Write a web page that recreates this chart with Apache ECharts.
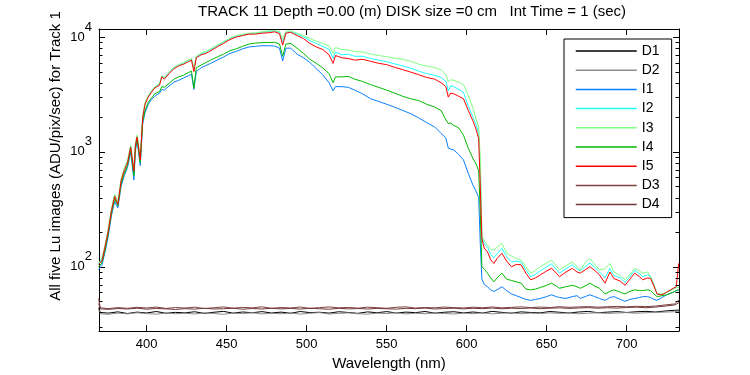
<!DOCTYPE html>
<html lang="en">
<head>
<meta charset="UTF-8">
<title>TRACK 11 Lu images</title>
<script src="https://cdn.jsdelivr.net/npm/echarts@6/dist/echarts.min.js"></script>
<style>
    html, body { margin: 0; padding: 0; background: #fff; }
    #main { width: 750px; height: 375px; }
</style>
</head>
<body>
<div id="main"></div>
<script>
var myChart = echarts.init(document.getElementById('main'))

var xTicks = [400, 450, 500, 550, 600, 650, 700]
var minorTicks = [30, 40, 50, 60, 70, 80, 90, 200, 300, 400, 500, 600, 700, 800, 900,
    2000, 3000, 4000, 5000, 6000, 7000, 8000, 9000]

// wavelength grid (nm) of the five light images
var wl = [
    370, 372, 374, 376, 378, 380, 382, 384, 386, 388,
    390, 392, 393, 394, 396, 397.5, 399, 401, 403, 405,
    408, 409.5, 411, 414, 417, 420, 423, 426, 428, 429.5,
    431, 434, 437, 440, 444, 448, 452, 456, 460, 464,
    468, 472, 476, 480, 483, 485, 487, 490, 494, 498,
    502, 506, 510, 514, 516.5, 518, 522, 526, 530, 535,
    540, 545, 550, 555, 560, 565, 570, 575, 580, 584,
    587, 588.5, 590, 592, 595, 598, 601, 604, 606, 607.5,
    608.5, 609.5, 611, 613, 615, 617, 619, 622, 625, 628,
    631, 634, 637, 640, 643, 646, 650, 653, 656, 658,
    662, 666, 669, 671, 674, 677, 680, 683, 686.5, 689.5,
    692, 696, 699, 702, 705, 708, 710, 713, 715, 717,
    719, 722, 725, 729, 731, 732.5
]

var i1 = [
    95, 103, 135, 185, 280, 370, 325, 500, 620, 730,
    1000, 570, 1030, 1250, 760, 1750, 2200, 2600, 2850, 3050,
    3250, 3500, 3450, 3750, 4050, 4200, 4400, 4600, 4750, 3500,
    5000, 5400, 5650, 5900, 6300, 6700, 7200, 7500, 7900, 8200,
    8300, 8400, 8400, 8350, 8000, 6200, 8000, 8000, 7100, 6600,
    6000, 5300, 4700, 4000, 3400, 3700, 3700, 3650, 3450, 3200,
    2900, 2750, 2600, 2450, 2300, 2150, 1980, 1800, 1650, 1450,
    1320, 1080, 1060, 1040, 950, 850, 650, 510, 450, 400,
    160, 78, 70, 67, 63, 61, 63, 67, 62, 58,
    56, 54, 52, 51, 52, 53, 55, 57, 55, 54,
    53, 55, 56, 53, 55, 57, 55, 53, 51, 54,
    55, 52, 50, 52, 53, 54, 55, 55, 54, 52,
    51, 54, 57, 60, 62, 63
]

var i2 = [
    106, 115, 152, 210, 315, 420, 360, 570, 700, 820,
    1120, 700, 1170, 1380, 880, 2020, 2650, 3050, 3350, 3650,
    3900, 4550, 4400, 4900, 5400, 5700, 5900, 6200, 6400, 5200,
    6700, 7100, 7400, 7800, 8400, 9000, 9700, 10100, 10400, 10700,
    10800, 11000, 11200, 11300, 11000, 9000, 11000, 11100, 10600, 10100,
    9300, 8800, 8300, 7800, 6500, 7400, 7000, 7100, 6800, 6800,
    6500, 6300, 6100, 5850, 5600, 5350, 5050, 4800, 4650, 4450,
    4100, 3400, 3750, 3700, 3500, 3300, 2500, 2000, 1700, 1450,
    700, 180, 158, 148, 128, 120, 130, 145, 122, 110,
    112, 110, 94, 82, 86, 92, 100, 106, 95, 88,
    96, 104, 96, 92, 100, 108, 99, 90, 80, 97,
    84, 80, 73, 82, 93, 87, 82, 85, 82, 70,
    58, 57, 60, 64, 66, 66
]

var i3 = [
    108, 118, 155, 215, 320, 430, 370, 580, 720, 840,
    1150, 720, 1200, 1400, 900, 2050, 2700, 3100, 3400, 3700,
    3950, 4600, 4450, 4950, 5450, 5750, 6000, 6300, 6500, 5300,
    6800, 7300, 7500, 7900, 8500, 9100, 9800, 10300, 10600, 10800,
    10900, 11100, 11300, 11400, 11200, 9600, 11200, 11300, 10800, 10300,
    9700, 9200, 8800, 8400, 7200, 8100, 7800, 7700, 7500, 7400,
    7100, 6900, 6750, 6550, 6400, 6150, 5800, 5600, 5400, 5200,
    4700, 4100, 4250, 4200, 4050, 3850, 3100, 2400, 1900, 1650,
    900, 185, 168, 155, 142, 140, 148, 160, 131, 124,
    118, 114, 100, 88, 93, 100, 108, 114, 102, 94,
    102, 110, 100, 94, 108, 118, 105, 94, 96, 107,
    90, 84, 77, 86, 97, 92, 88, 90, 82, 70,
    58, 58, 60, 64, 66, 66
]

var i4 = [
    100, 108, 140, 195, 295, 390, 340, 530, 650, 760,
    1050, 620, 1080, 1300, 800, 1850, 2300, 2700, 2950, 3200,
    3350, 3700, 3650, 3950, 4300, 4500, 4650, 4900, 5050, 3600,
    5400, 5700, 6000, 6300, 6700, 7100, 7600, 7900, 8300, 8700,
    8850, 8950, 8950, 9000, 8700, 6800, 8700, 8800, 8000, 7200,
    6400, 5900, 5400, 4800, 4000, 4500, 4500, 4550, 4300, 4100,
    3850, 3650, 3450, 3250, 3050, 2900, 2800, 2600, 2460, 2290,
    1900, 1770, 1780, 1700, 1620, 1400, 1080, 870, 780, 680,
    300, 100, 95, 88, 80, 74, 80, 88, 78, 76,
    74, 72, 64, 63, 64, 66, 69, 72, 68, 65,
    67, 69, 67, 65, 68, 72, 68, 65, 58, 61,
    63, 60, 58, 61, 63, 62, 62, 63, 62, 58,
    55, 56, 57, 60, 62, 63
]

var i5 = [
    105, 112, 150, 205, 310, 410, 350, 560, 690, 800,
    1100, 680, 1150, 1350, 850, 2000, 2600, 3000, 3300, 3600,
    3800, 4500, 4300, 4800, 5300, 5600, 5800, 6100, 6300, 5000,
    6600, 7000, 7200, 7600, 8200, 8800, 9500, 10000, 10300, 10600,
    10600, 10800, 10900, 11100, 10700, 8500, 10800, 11000, 10300, 9700,
    8800, 8200, 7800, 7000, 5900, 6900, 6600, 6500, 6300, 6400,
    6150, 5900, 5750, 5450, 5200, 4950, 4700, 4450, 4300, 4000,
    3700, 3000, 3250, 3200, 3050, 2900, 2300, 1850, 1550, 1300,
    500, 175, 145, 135, 115, 107, 118, 131, 112, 100,
    105, 104, 88, 77, 80, 85, 92, 97, 88, 82,
    90, 97, 90, 88, 94, 100, 93, 85, 72, 90,
    79, 75, 69, 78, 88, 82, 77, 80, 79, 68,
    58, 57, 60, 65, 67, 107
]

// wavelength grid (nm) of the four dark images
var wlDark = [
    370, 371, 376, 382, 388, 394, 400, 406, 412, 418,
    424, 430, 436, 442, 448, 454, 460, 466, 472, 478,
    484, 490, 496, 502, 508, 514, 520, 526, 532, 538,
    544, 550, 556, 562, 568, 574, 580, 586, 592, 598,
    604, 610, 616, 622, 628, 634, 640, 646, 652, 658,
    664, 670, 676, 682, 688, 694, 700, 706, 712, 718,
    724, 730, 733
]

var d1 = [
    44, 40, 39.5, 40.5, 39.2, 40.3, 39.6, 40.8, 39.4, 40.1,
    39.7, 40.6, 39.3, 40.2, 40.9, 39.5, 40.4, 39.8, 40.7, 39.6,
    40.3, 39.4, 40.8, 39.9, 40.2, 39.5, 40.6, 40.0, 39.3, 40.5,
    39.8, 40.7, 39.6, 40.3, 39.9, 40.8, 39.5, 40.2, 40.6, 39.7,
    40.4, 39.6, 40.9, 40.1, 39.5, 40.5, 40.0, 39.7, 40.8, 40.2,
    39.6, 40.4, 40.9, 39.8, 40.3, 40.7, 40.0, 40.6, 40.9, 40.4,
    41.2, 41.8, 42
]

var d2 = [
    42, 39, 38.6, 39.5, 38.9, 39.8, 39.1, 38.7, 39.6, 39.0,
    39.4, 38.8, 39.7, 39.2, 38.6, 39.5, 39.1, 39.8, 38.9, 39.3,
    39.0, 39.6, 38.7, 39.4, 39.9, 38.8, 39.3, 39.7, 39.0, 38.7,
    39.5, 39.1, 39.8, 38.9, 39.4, 39.0, 39.6, 39.2, 38.8, 39.5,
    39.1, 39.7, 38.9, 39.4, 39.8, 39.0, 39.5, 39.2, 39.7, 39.3,
    39.6, 39.0, 39.4, 39.8, 39.2, 39.6, 39.9, 39.4, 39.8, 40.1,
    40.3, 40.6, 41
]

var d3 = [
    53, 44, 43.2, 44.1, 43.5, 44.4, 43.8, 44.6, 43.4, 44.2,
    43.7, 44.5, 43.3, 44.0, 44.7, 43.6, 44.3, 43.9, 44.8, 43.5,
    44.2, 43.8, 44.6, 43.4, 44.1, 44.7, 43.9, 44.3, 43.6, 44.5,
    44.0, 43.5, 44.4, 44.8, 43.7, 44.2, 43.9, 44.6, 44.1, 43.8,
    44.5, 44.0, 44.7, 43.9, 44.3, 44.8, 44.1, 44.6, 44.2, 44.9,
    44.4, 44.7, 45.0, 44.5, 44.9, 45.2, 44.8, 45.3, 45.0, 45.5,
    46.5, 47.5, 52
]

var d4 = [
    48, 43, 42.6, 43.3, 42.9, 43.6, 42.7, 43.4, 43.0, 42.5,
    43.2, 42.8, 43.5, 42.9, 43.1, 43.6, 42.7, 43.3, 42.9, 43.5,
    43.0, 43.4, 42.8, 43.6, 43.1, 42.7, 43.5, 43.0, 43.3, 42.9,
    43.4, 43.1, 42.8, 43.5, 43.2, 43.7, 42.9, 43.3, 43.6, 43.0,
    43.5, 43.2, 43.7, 43.1, 43.6, 43.3, 43.8, 43.2, 43.6, 43.9,
    43.4, 43.8, 44.1, 43.6, 44.0, 43.7, 44.2, 44.5, 44.0, 44.6,
    45.5, 46.5, 49
]

var xMin = 370.2, xMax = 732.7
var yMin = 27.6, yMax = 11750
var font = 'Liberation Sans, Arial, Helvetica, sans-serif'

function pairs(xs, ys) {
    return xs.map(function (x, i) { return [x, ys[i]] })
}

function lineSeries(name, xs, ys, color) {
    return {
        name: name,
        type: 'line',
        data: pairs(xs, ys),
        symbol: 'none',
        showSymbol: false,
        lineStyle: { color: color, width: 1 },
        itemStyle: { color: color },
        emphasis: { disabled: true },
        z: 2
    }
}

// superscript power-of-ten labels, others left blank
function powLabel(v) {
    var e = Math.log10(v)
    var r = Math.round(e)
    if (Math.abs(e - r) > 1e-6) return ''
    return '{b|10}{s|' + r + '}'
}

var option = {
    animation: false,
    backgroundColor: '#fff',
    title: {
        text: 'TRACK 11 Depth =0.00 (m) DISK size =0 cm   Int Time = 1 (sec)',
        left: 198,
        top: 4,
        padding: 0,
        textStyle: { fontFamily: font, fontSize: 15, fontWeight: 'normal', color: '#000' }
    },
    grid: { left: 99, right: 71, top: 29, bottom: 44, containLabel: false, outerBoundsMode: 'none' },
    legend: {
        data: ['D1', 'D2', 'I1', 'I2', 'I3', 'I4', 'I5', 'D3', 'D4'],
        orient: 'vertical',
        left: 564,
        top: 39,
        padding: [5, 12, 6, 11],
        itemWidth: 61,
        itemHeight: 14,
        itemGap: 5.2,
        borderColor: '#000',
        borderWidth: 1,
        backgroundColor: '#fff',
        selectedMode: false,
        itemStyle: { opacity: 0 },
        lineStyle: { width: 1.5 },
        textStyle: { fontFamily: font, fontSize: 14, color: '#000' }
    },
    xAxis: [
        {
            type: 'value',
            min: xMin,
            max: xMax,
            name: 'Wavelength (nm)',
            nameLocation: 'middle',
            nameGap: 25,
            nameTextStyle: { fontFamily: font, fontSize: 15, color: '#000' },
            axisLine: { lineStyle: { color: '#000', width: 1 } },
            axisTick: { inside: true, length: 6, customValues: xTicks, lineStyle: { color: '#000' } },
            axisLabel: { customValues: xTicks, margin: 7, fontFamily: font, fontSize: 13, color: '#000' },
            splitLine: { show: false }
        },
        {
            type: 'value',
            position: 'top',
            min: xMin,
            max: xMax,
            axisLine: { lineStyle: { color: '#000', width: 1 } },
            axisTick: { inside: true, length: 6, customValues: xTicks, lineStyle: { color: '#000' } },
            axisLabel: { show: false },
            splitLine: { show: false }
        }
    ],
    yAxis: [
        {
            type: 'log',
            logBase: 10,
            min: yMin,
            max: yMax,
            axisLine: { lineStyle: { color: '#000', width: 1 } },
            axisTick: { inside: true, length: 6, lineStyle: { color: '#000' } },
            axisLabel: {
                formatter: powLabel,
                margin: 7,
                color: '#000',
                rich: {
                    b: { fontFamily: font, fontSize: 13, color: '#000' },
                    s: { fontFamily: font, fontSize: 13, color: '#000', padding: [0, 0, 20, 0] }
                }
            },
            splitLine: { show: false }
        },
        {
            type: 'log',
            logBase: 10,
            position: 'right',
            min: yMin,
            max: yMax,
            axisLine: { lineStyle: { color: '#000', width: 1 } },
            axisTick: { inside: true, length: 6, lineStyle: { color: '#000' } },
            axisLabel: { show: false },
            splitLine: { show: false }
        }
    ],
    graphic: [
        {
            type: 'text',
            x: 56,
            y: 156,
            rotation: Math.PI / 2,
            style: {
                text: 'All five Lu images (ADU/pix/sec) for Track 1',
                fontFamily: font,
                fontSize: 15,
                fill: '#000',
                align: 'center',
                verticalAlign: 'middle'
            }
        }
    ],
    series: [
        lineSeries('D1', wlDark, d1, '#000000'),
        lineSeries('D2', wlDark, d2, '#8c8c8c'),
        lineSeries('I1', wl, i1, '#0a7fff'),
        lineSeries('I2', wl, i2, '#20ffff'),
        lineSeries('I3', wl, i3, '#80ff80'),
        lineSeries('I4', wl, i4, '#00bb00'),
        lineSeries('I5', wl, i5, '#ff0000'),
        lineSeries('D3', wlDark, d3, '#804040'),
        lineSeries('D4', wlDark, d4, '#703838'),
        {
            // minor log ticks on both sides of the box
            type: 'custom',
            silent: true,
            z: 5,
            data: minorTicks.map(function (v) { return [xMin, v] }),
            renderItem: function (params, api) {
                var v = api.value(1)
                var l = api.coord([xMin, v])
                var r = api.coord([xMax, v])
                var y = Math.round(l[1]) + 0.5
                return {
                    type: 'group',
                    children: [
                        { type: 'line', shape: { x1: l[0], y1: y, x2: l[0] + 3.5, y2: y }, style: { stroke: '#000', lineWidth: 1 } },
                        { type: 'line', shape: { x1: r[0] - 3.5, y1: y, x2: r[0], y2: y }, style: { stroke: '#000', lineWidth: 1 } }
                    ]
                }
            }
        }
    ]
}

myChart.setOption(option)
</script>
</body>
</html>
